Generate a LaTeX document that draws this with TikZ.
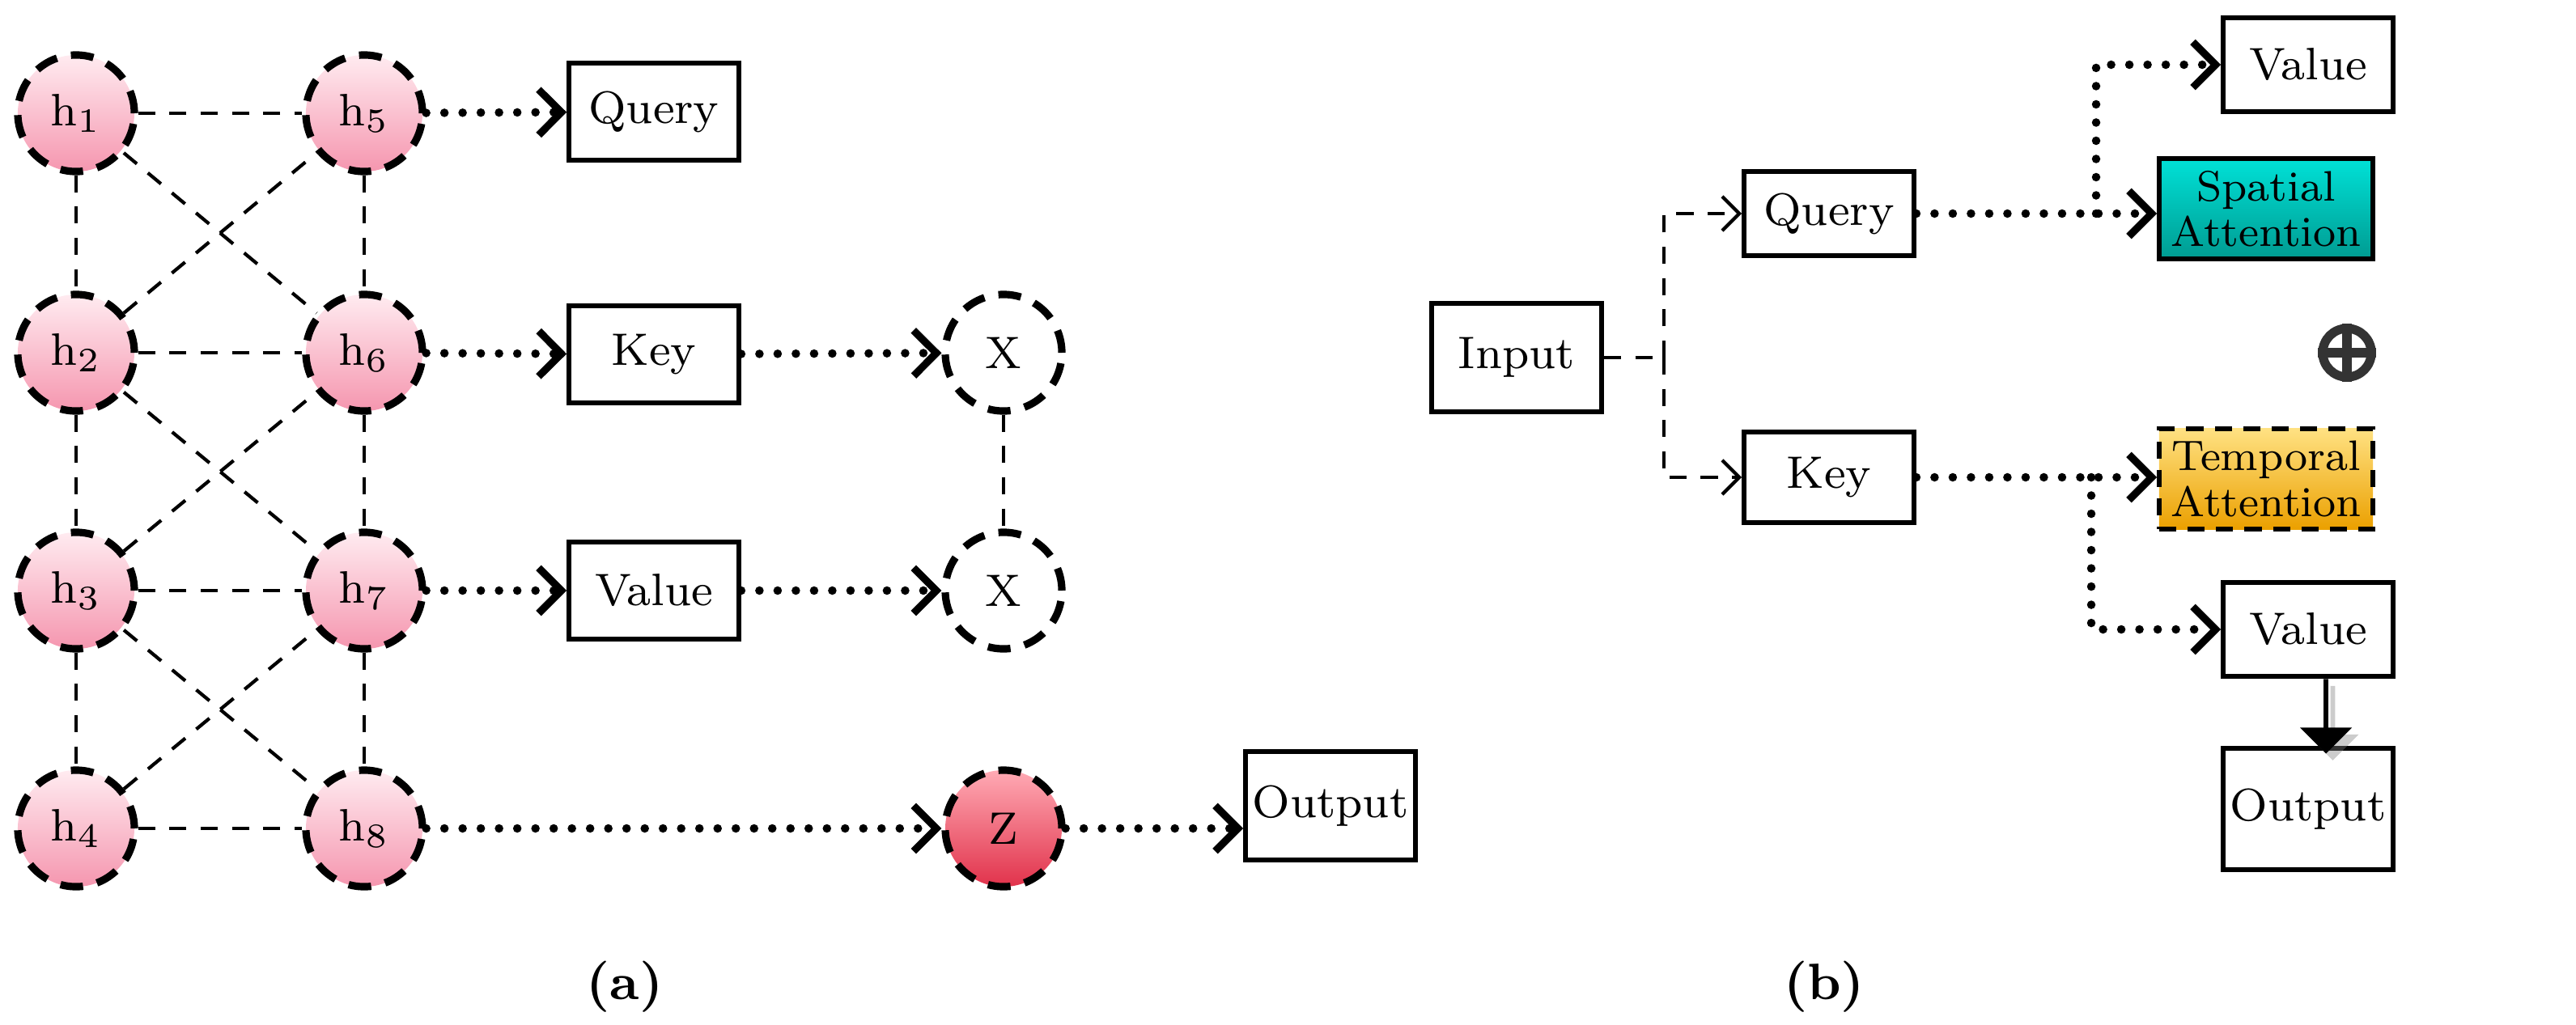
\documentclass[tikz,border=0pt]{standalone}
\usetikzlibrary{arrows.meta,shapes.arrows,shadows}
\definecolor{pinkA}{RGB}{255,235,240}
\definecolor{pinkB}{RGB}{245,150,175}
\definecolor{redA}{RGB}{255,170,180}
\definecolor{redB}{RGB}{225,50,75}
\definecolor{tealA}{RGB}{0,225,215}
\definecolor{tealB}{RGB}{0,155,145}
\definecolor{orA}{RGB}{255,225,130}
\definecolor{orB}{RGB}{235,160,0}
\begin{document}
\begin{tikzpicture}[x=0.01cm,y=-0.01cm,
  every node/.style={font=\fontsize{8}{9}\selectfont},
  hn/.style={circle,draw,line width=1.3pt,dash pattern=on 4pt off 2.5pt,minimum size=0.72cm,inner sep=0pt,top color=pinkA,bottom color=pinkB},
  xn/.style={circle,draw,line width=1.3pt,dash pattern=on 4pt off 2.5pt,minimum size=0.72cm,inner sep=0pt},
  box/.style={draw,line width=0.8pt,minimum width=1.05cm,minimum height=0.6cm,inner sep=1pt},
  att/.style={draw,line width=0.8pt,minimum width=1.32cm,minimum height=0.62cm,inner sep=0pt,align=center,font=\fontsize{7.5}{8}\selectfont},
  ln/.style={dash pattern=on 3pt off 2.5pt,line width=0.6pt},
  dt/.style={line width=1.5pt,dash pattern=on 0pt off 3.2pt,line cap=round},
  arr/.style={-{Straight Barb[length=4pt,width=8pt,line width=1.3pt]}},
  thin arr/.style={-{Straight Barb[length=3pt,width=6pt]}}
]
\useasboundingbox (0,0) rectangle (1591.5,633);
% (a)
\node[hn] (h1) at (47,70) {$\mathrm{h}_1$};
\node[hn] (h2) at (47,218) {$\mathrm{h}_2$};
\node[hn] (h3) at (47,365) {$\mathrm{h}_3$};
\node[hn] (h4) at (47,512) {$\mathrm{h}_4$};
\node[hn] (h5) at (225,70) {$\mathrm{h}_5$};
\node[hn] (h6) at (225,218) {$\mathrm{h}_6$};
\node[hn] (h7) at (225,365) {$\mathrm{h}_7$};
\node[hn] (h8) at (225,512) {$\mathrm{h}_8$};
\foreach \a/\b in {h1/h5,h2/h6,h3/h7,h4/h8,h1/h2,h2/h3,h3/h4,h5/h6,h6/h7,h7/h8,h1/h6,h2/h5,h2/h7,h3/h6,h3/h8,h4/h7}
  \draw[ln] (\a) -- (\b);
\node[box] (q) at (404,69) {Query};
\node[box] (k) at (404,219) {Key};
\node[box] (v) at (404,365) {Value};
\node[xn] (x1) at (620,218) {X};
\node[xn] (x2) at (620,365) {X};
\node[xn,top color=redA,bottom color=redB] (z) at (620,512) {Z};
\node[box,minimum height=0.67cm] (o) at (822,498) {Output};
\draw[dt,arr] (h5) -- (q);
\draw[dt,arr] (h6) -- (k);
\draw[dt,arr] (h7) -- (v);
\draw[dt,arr] (k) -- (x1);
\draw[dt,arr] (v) -- (x2);
\draw[ln] (x1) -- (x2);
\draw[dt,arr] (h8) -- (z);
\draw[dt,arr] (z) -- (o.west |- z);
\node[font=\fontsize{9}{11}\selectfont\bfseries] (la) at (386,610) {(a)};
% (b)
\node[box,minimum height=0.67cm] (in) at (937,221) {Input};
\node[box,minimum height=0.52cm] (q2) at (1130,132) {Query};
\node[box,minimum height=0.56cm] (k2) at (1130,295) {Key};
\node[box,minimum height=0.58cm] (vt) at (1426,40) {Value};
\node[att,top color=tealA,bottom color=tealB] (sa) at (1400,129) {Spatial\\Attention};
\node[att,dash pattern=on 3pt off 2pt,top color=orA,bottom color=orB] (ta) at (1400,296) {Temporal\\Attention};
\node[circle,draw=black!80,line width=1.6pt,minimum size=0.3cm,inner sep=0pt] (plus) at (1450,218) {};
\draw[black!80,line width=1.6pt] (plus.north) -- (plus.south) (plus.west) -- (plus.east);
\node[box,minimum height=0.58cm] (vb) at (1426,389) {Value};
\node[box,minimum height=0.75cm] (ob) at (1426,500) {Output};
\coordinate (br) at (1028,221);
\draw[ln] (in) -- (br);
\draw[ln,thin arr] (br) |- (q2);
\draw[ln,thin arr] (br) |- (k2);
\coordinate (bq) at (1295,132);
\coordinate (bk) at (1292,295);
\draw[dt,arr] (q2) -- (sa.west |- q2);
\draw[dt,arr] (bq) |- (vt);
\draw[dt,arr] (k2) -- (ta.west |- k2);
\draw[dt,arr] (bk) |- (vb);
\node[single arrow,fill=black,rotate=-90,minimum height=0.46cm,minimum width=0.32cm,single arrow head extend=0.07cm,inner sep=0pt,drop shadow={shadow xshift=1.2pt,shadow yshift=-1.2pt,opacity=0.4}] (ba) at (1437,442) {};
\node[font=\fontsize{9}{11}\selectfont\bfseries] (lb) at (1127,610) {(b)};
\end{tikzpicture}
\end{document}
